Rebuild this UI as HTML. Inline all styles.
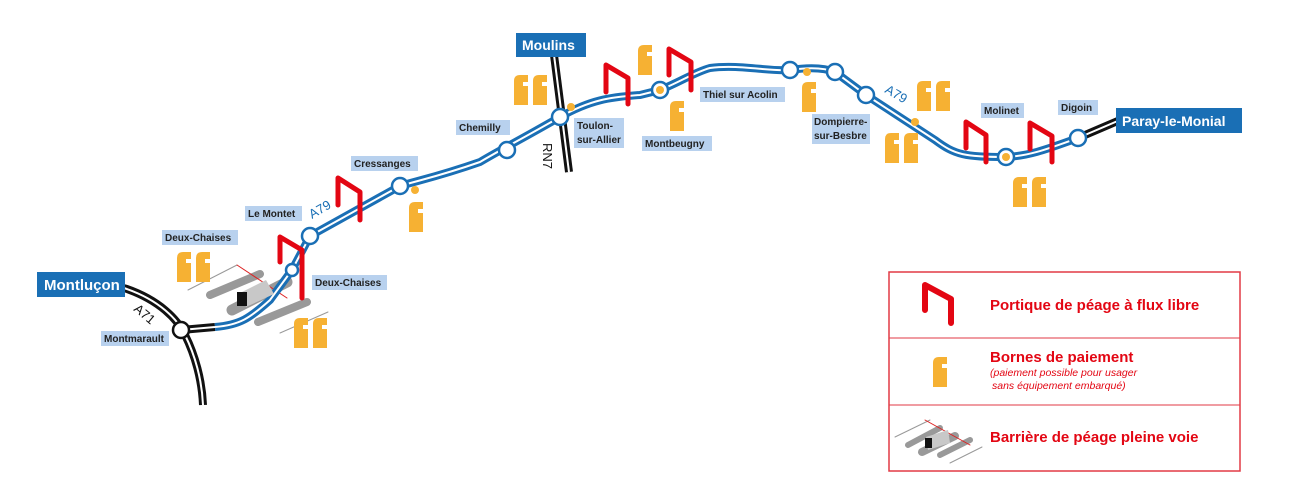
<!DOCTYPE html>
<html><head><meta charset="utf-8"><style>
body{margin:0;background:#fff;}
svg{display:block;font-family:"Liberation Sans",sans-serif;}
.lb{font-size:10px;font-weight:bold;fill:#222;}
</style></head><body>
<svg width="1303" height="503" viewBox="0 0 1303 503" xmlns="http://www.w3.org/2000/svg">
<defs>
<g id="b"><path d="M0,30 V6 Q0,0 6,0 H14 V30 Z" fill="#f6b133"/><rect x="9" y="7" width="5" height="4" fill="#fff"/></g>
<g id="bb"><use href="#b"/><use href="#b" x="19"/></g>
</defs>
<g fill="none" stroke="#111" stroke-width="8">
<path d="M124,288 C160,300 178,320 185,335 C195,355 202,380 203,405"/>
<path d="M554,55 L569,172"/>
<path d="M1078,138 L1120,120"/>
<path d="M181,330 L215,327"/>
</g>
<g fill="none" stroke="#fff" stroke-width="2">
<path d="M124,288 C160,300 178,320 185,335 C195,355 202,380 203,405"/>
<path d="M554,55 L569,172"/>
<path d="M1078,138 L1120,120"/>
<path d="M181,330 L215,327"/>
</g>
<!-- toll barrier (behind road) -->
<g stroke-linecap="round">
<line x1="188" y1="290" x2="237" y2="265" stroke="#999" stroke-width="1"/>
<line x1="280" y1="333" x2="328" y2="312" stroke="#999" stroke-width="1"/>
<line x1="210" y1="295" x2="260" y2="274" stroke="#999" stroke-width="8"/>
<line x1="232" y1="310" x2="287" y2="282" stroke="#999" stroke-width="11"/>
<line x1="258" y1="322" x2="307" y2="302" stroke="#999" stroke-width="8"/>
<line x1="237" y1="265" x2="287" y2="298" stroke="#d22" stroke-width="1"/>
</g>
<path id="r" d="M215,327 C240,325 250,318 270,300 L292,270 L310,236 L400,186 C420,180 440,176 480,162 C500,150 520,140 560,117 C590,100 610,97 640,95 L660,90 C680,82 695,72 710,68 C740,64 770,72 790,70 C810,67 825,68 835,72 L866,95 L935,140 C955,155 965,157 1006,157 C1030,156 1050,148 1078,138" fill="none" stroke="#1a6fb5" stroke-width="8"/>
<path d="M215,327 C240,325 250,318 270,300 L292,270 L310,236 L400,186 C420,180 440,176 480,162 C500,150 520,140 560,117 C590,100 610,97 640,95 L660,90 C680,82 695,72 710,68 C740,64 770,72 790,70 C810,67 825,68 835,72 L866,95 L935,140 C955,155 965,157 1006,157 C1030,156 1050,148 1078,138" fill="none" stroke="#fff" stroke-width="2"/>
<polygon points="240,293 266,280 274,294 246,307" fill="#c8c8c8"/>
<rect x="237" y="292" width="10" height="14" fill="#111"/>
<!-- gantries -->
<g fill="none" stroke="#e30613" stroke-width="5" stroke-linecap="round" stroke-linejoin="round">
<path d="M280,262 V237 L302,250 V298"/>
<path d="M338,205 V178 L360,192 V220"/>
<path d="M606,92 V65 L628,78 V104"/>
<path d="M669,75 V49 L691,62 V90"/>
<path d="M966,148 V122 L986,135 V162"/>
<path d="M1030,149 V123 L1052,136 V162"/>
</g>
<g fill="#fff" stroke="#1a6fb5" stroke-width="2.5">
<circle cx="292" cy="270" r="6"/><circle cx="310" cy="236" r="8"/><circle cx="400" cy="186" r="8"/>
<circle cx="507" cy="150" r="8"/><circle cx="560" cy="117" r="8"/><circle cx="660" cy="90" r="8"/>
<circle cx="790" cy="70" r="8"/><circle cx="835" cy="72" r="8"/><circle cx="866" cy="95" r="8"/>
<circle cx="1006" cy="157" r="8"/><circle cx="1078" cy="138" r="8"/>
</g>
<circle cx="181" cy="330" r="8" fill="#fff" stroke="#111" stroke-width="2.5"/>
<g fill="#f6b133"><circle cx="660" cy="90" r="4"/><circle cx="1006" cy="157" r="4"/>
<circle cx="571" cy="107" r="4"/><circle cx="807" cy="72" r="4"/><circle cx="915" cy="122" r="4"/><circle cx="415" cy="190" r="4"/></g>
<use href="#bb" x="177" y="252"/><use href="#bb" x="294" y="318"/><use href="#bb" x="514" y="75"/>
<use href="#b" x="638" y="45"/><use href="#b" x="670" y="101"/><use href="#b" x="802" y="82"/>
<use href="#bb" x="917" y="81"/><use href="#bb" x="885" y="133"/><use href="#bb" x="1013" y="177"/>
<use href="#b" x="409" y="202"/>
<rect x="37" y="272" width="88" height="25" fill="#1a6fb5"/><text x="44" y="290" fill="#fff" font-size="15" font-weight="bold">Montluçon</text>
<rect x="516" y="33" width="70" height="24" fill="#1a6fb5"/><text x="522" y="50" fill="#fff" font-size="14" font-weight="bold">Moulins</text>
<rect x="1116" y="108" width="126" height="25" fill="#1a6fb5"/><text x="1122" y="126" fill="#fff" font-size="14" font-weight="bold">Paray-le-Monial</text>
<g fill="#b8d1ee">
<rect x="162" y="230" width="76" height="15"/><rect x="245" y="206" width="57" height="15"/>
<rect x="312" y="275" width="75" height="15"/><rect x="101" y="331" width="68" height="15"/>
<rect x="351" y="156" width="67" height="15"/><rect x="456" y="120" width="54" height="15"/>
<rect x="574" y="118" width="50" height="30"/><rect x="642" y="136" width="70" height="15"/>
<rect x="700" y="87" width="85" height="15"/><rect x="812" y="114" width="58" height="30"/>
<rect x="981" y="103" width="43" height="15"/><rect x="1058" y="100" width="40" height="15"/>
</g>
<g class="lb">
<text x="165" y="241">Deux-Chaises</text><text x="248" y="217">Le Montet</text>
<text x="315" y="286">Deux-Chaises</text><text x="104" y="342">Montmarault</text>
<text x="354" y="167">Cressanges</text><text x="459" y="131">Chemilly</text>
<text x="577" y="129">Toulon-</text><text x="577" y="143">sur-Allier</text>
<text x="645" y="147">Montbeugny</text><text x="703" y="98">Thiel sur Acolin</text>
<text x="814" y="125">Dompierre-</text><text x="814" y="139">sur-Besbre</text>
<text x="984" y="114">Molinet</text><text x="1061" y="111">Digoin</text>
</g>
<g font-size="13" fill="#1a6fb5">
<text transform="translate(312,219) rotate(-30)">A79</text>
<text transform="translate(884,92) rotate(30)">A79</text>
</g>
<text transform="translate(133,310) rotate(40)" font-size="13" fill="#111">A71</text>
<text transform="translate(543,143) rotate(90)" font-size="13" fill="#111">RN7</text>
<rect x="889" y="272" width="351" height="199" fill="none" stroke="#e23a45" stroke-width="1.5"/>
<line x1="889" y1="338" x2="1240" y2="338" stroke="#e23a45" stroke-width="1"/>
<line x1="889" y1="405" x2="1240" y2="405" stroke="#e23a45" stroke-width="1"/>
<path d="M925,310 V285 L951,299 V323" fill="none" stroke="#e30613" stroke-width="6" stroke-linecap="round" stroke-linejoin="round"/>
<use href="#b" x="933" y="357"/>
<g stroke-linecap="round">
<line x1="895" y1="437" x2="930" y2="420" stroke="#999" stroke-width="1"/>
<line x1="908" y1="445" x2="940" y2="428" stroke="#999" stroke-width="6"/>
<line x1="922" y1="452" x2="955" y2="436" stroke="#999" stroke-width="8"/>
<line x1="940" y1="455" x2="970" y2="440" stroke="#999" stroke-width="6"/>
<line x1="950" y1="463" x2="982" y2="447" stroke="#999" stroke-width="1"/>
<line x1="925" y1="420" x2="970" y2="445" stroke="#d22" stroke-width="1"/>
</g>
<polygon points="926,437 948,430 950,443 928,450" fill="#c8c8c8"/><rect x="925" y="438" width="7" height="10" fill="#111"/>
<g fill="#e30613" font-weight="bold" font-size="15">
<text x="990" y="310">Portique de péage à flux libre</text>
<text x="990" y="362">Bornes de paiement</text>
<text x="990" y="442">Barrière de péage pleine voie</text>
</g>
<text x="990" y="376" fill="#e30613" font-size="10.5" font-style="italic">(paiement possible pour usager</text>
<text x="992" y="389" fill="#e30613" font-size="10.5" font-style="italic">sans équipement embarqué)</text>
</svg>
</body></html>
